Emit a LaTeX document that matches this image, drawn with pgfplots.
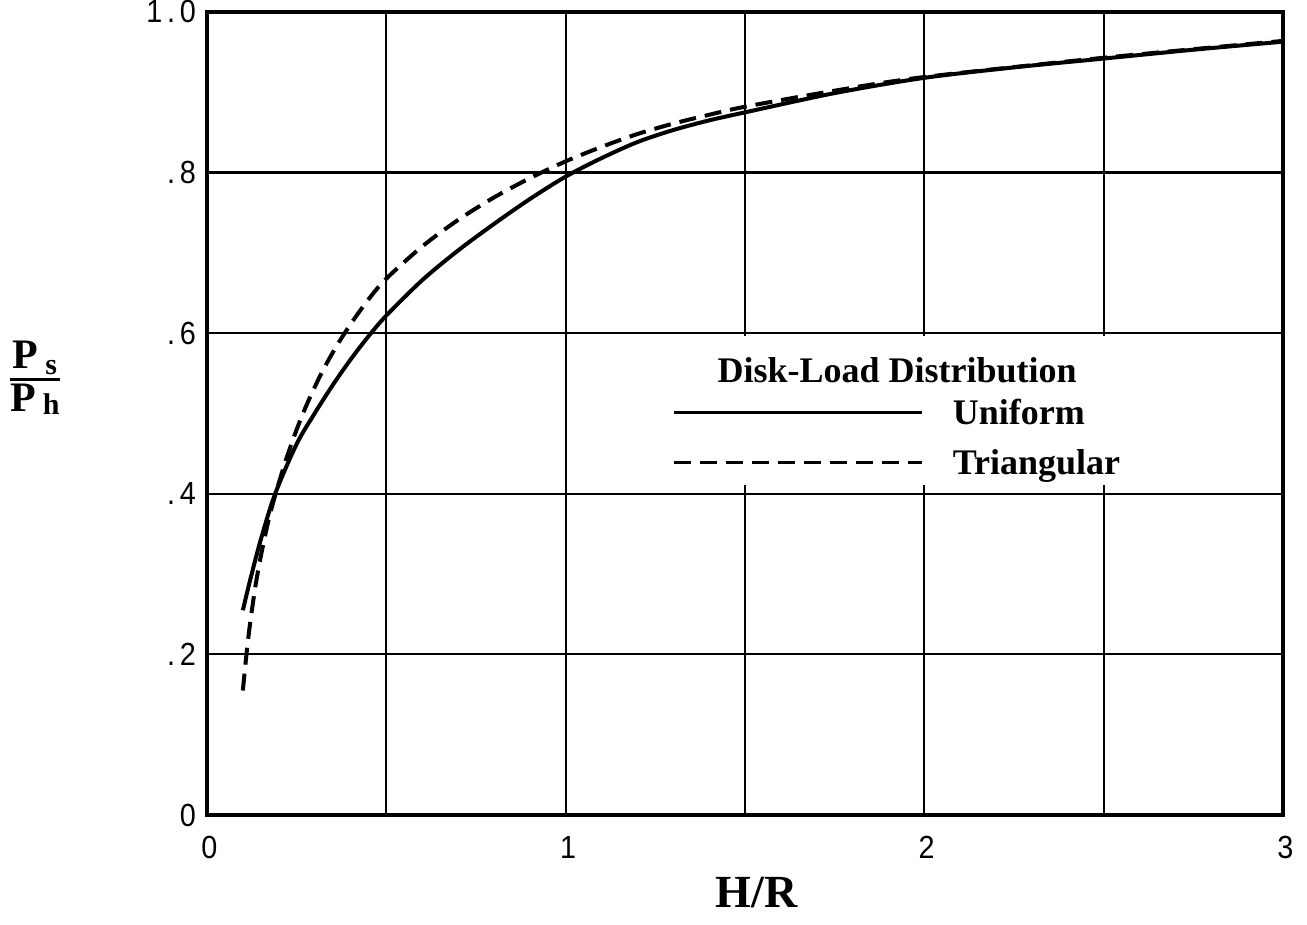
\documentclass[border=0pt]{standalone}
\usepackage{fontspec}
\setmainfont{Liberation Serif}
\newfontfamily\tickfont[FakeStretch=0.9, LetterSpace=15]{Liberation Sans}
\usepackage{pgfplots}
\pgfplotsset{compat=1.18}
\begin{document}
\begin{tikzpicture}
\begin{axis}[
  name=ax,
  width=538pt, height=401.5pt, scale only axis,
  xmin=0, xmax=3, ymin=0, ymax=1,
  xtick={0,1,2,3}, xticklabels={0,1,2,3},
  minor xtick={0.5,1.5,2.5},
  ytick={0,0.2,0.4,0.6,0.8,1.0}, yticklabels={0,.2,.4,.6,.8,1.0},
  grid=both,
  major grid style={line width=1.1pt, black},
  minor grid style={line width=1.1pt, black},
  major tick length=0pt, minor tick length=0pt,
  axis line style={line width=1.6pt},
  tick label style={font=\tickfont\fontsize{16}{16}\selectfont},
  xticklabel style={yshift=-7pt, xshift=1.2pt},
  yticklabel style={xshift=-2pt},
  xlabel={H/R},
  xlabel style={font=\bfseries\fontsize{23}{23}\selectfont, at={(axis description cs:0.511,0)}, anchor=center, yshift=-39pt},
  ylabel={${\mbox{P\hspace{3.5pt}\raisebox{-3pt}{\fontsize{15}{15}\selectfont s}}\above 1.5pt \mbox{P\hspace{3.5pt}\raisebox{-1.5pt}{\fontsize{15}{15}\selectfont h}}}$},
  ylabel style={font=\bfseries\fontsize{21}{21}\selectfont, rotate=-90, at={(axis description cs:-0.16,0.545)}, anchor=center},
  legend style={draw=none, fill=none, at={(axis cs:1.296,0.533)}, anchor=north west,
    inner xsep=0pt, inner ysep=0pt, font=\bfseries\fontsize{18}{18}\selectfont,
    nodes={inner sep=0pt, text height=18.5pt, text depth=6.5pt}, column sep=15pt, row sep=0pt},
  legend cell align=left,
  legend image code/.code={\draw[#1, line width=1.3pt] (0pt,0pt) -- (124pt,0pt);},
]
\fill[white] (axis cs:1.27,0.411) rectangle (axis cs:2.62,0.597);
\node[font=\bfseries\fontsize{18}{18}\selectfont, anchor=base] at (axis cs:1.924,0.538) {Disk-Load Distribution};
\addplot[black, line width=2pt, smooth] coordinates {
(0.10,0.255) (0.12,0.292) (0.15,0.343) (0.19,0.400) (0.25,0.462) (0.30,0.500)
(0.35,0.535) (0.40,0.567) (0.45,0.596) (0.50,0.622) (0.60,0.666) (0.70,0.703)
(0.80,0.736) (0.90,0.767) (1.00,0.795) (1.10,0.818) (1.20,0.838) (1.30,0.853)
(1.40,0.865) (1.50,0.875) (1.75,0.899) (2.00,0.918) (2.25,0.931) (2.50,0.942)
(2.75,0.953) (3.00,0.963)
};
\addlegendentry{Uniform}
\addplot[black, line width=2pt, dash pattern=on 8.5pt off 4.5pt, smooth] coordinates {
(0.10,0.155) (0.11,0.200) (0.12,0.238) (0.135,0.285) (0.15,0.322) (0.17,0.364)
(0.19,0.398) (0.22,0.442) (0.25,0.480) (0.28,0.513) (0.32,0.551) (0.36,0.583)
(0.40,0.611) (0.45,0.642) (0.50,0.668) (0.60,0.708) (0.70,0.741) (0.80,0.769)
(0.90,0.793) (1.00,0.814) (1.10,0.832) (1.20,0.848) (1.30,0.861) (1.40,0.872)
(1.50,0.882) (1.75,0.902) (2.00,0.919) (2.50,0.943) (3.00,0.964)
};
\addlegendentry{Triangular}
\end{axis}
\pgfresetboundingbox
\path ([shift={(-103.5pt,-54.5pt)}]ax.south west) rectangle ([shift={(12pt,6pt)}]ax.north east);
\end{tikzpicture}
\end{document}
